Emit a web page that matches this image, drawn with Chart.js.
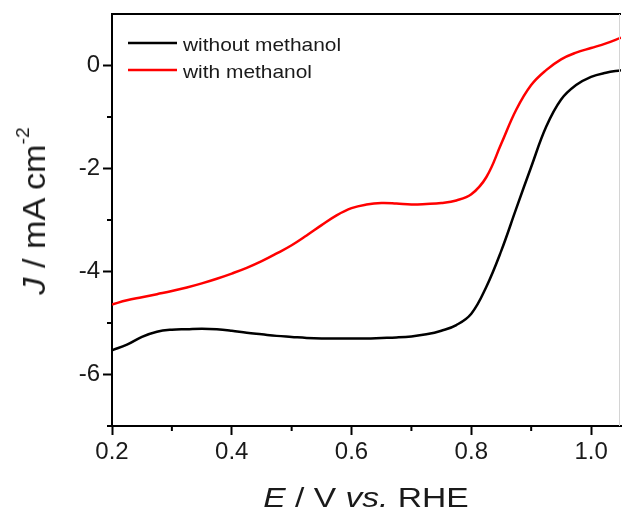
<!DOCTYPE html>
<html>
<head>
<meta charset="utf-8">
<script src="https://cdn.jsdelivr.net/npm/chart.js@4/dist/chart.umd.min.js"></script>
<style>
  body { margin: 0; background: #fff; }
  #wrap { position: relative; width: 622px; height: 515px; font-family: Arial, "Liberation Sans", sans-serif; color: #1a1a1a; }
  #xTitle { position: absolute; left: 166px; top: 484px; width: 400px; text-align: center; font-size: 28px; line-height: 28px; transform: scaleX(1.2); white-space: nowrap; }
  #yTitle { position: absolute; left: -116px; top: 195px; width: 300px; height: 32px; text-align: center; font-size: 32px; line-height: 32px; transform: rotate(-90deg) scaleX(1.07); white-space: nowrap; }
  #yTitle .sup { font-size: 18px; position: relative; top: -16px; }
</style>
</head>
<body>
<div id="wrap">
  <canvas id="lsvChart" width="622" height="515"></canvas>
  <div id="xTitle"><i>E</i> / V <i>vs.</i> RHE</div>
  <div id="yTitle"><i>J</i> / mA cm<span class="sup">-2</span></div>
</div>
<script>
// potential (V vs. RHE)
const potential = [0.2, 0.225, 0.25, 0.275, 0.3, 0.325, 0.35, 0.375, 0.4, 0.425, 0.45, 0.475,
    0.5, 0.525, 0.55, 0.575, 0.6, 0.625, 0.65, 0.675, 0.7, 0.725, 0.75, 0.775,
    0.8, 0.825, 0.85, 0.875, 0.9, 0.925, 0.95, 0.975, 1.0, 1.025, 1.05];

// current density (mA cm-2)
const withoutMethanol = [-5.53, -5.42, -5.27, -5.17, -5.13, -5.12, -5.11, -5.12, -5.15, -5.19, -5.22, -5.25,
    -5.27, -5.29, -5.30, -5.30, -5.30, -5.30, -5.29, -5.28, -5.26, -5.22, -5.15, -5.04,
    -4.82, -4.30, -3.60, -2.78, -1.97, -1.19, -0.66, -0.38, -0.22, -0.14, -0.09];
const withMethanol = [-4.64, -4.56, -4.50, -4.44, -4.38, -4.31, -4.23, -4.14, -4.04, -3.93, -3.80, -3.65,
    -3.49, -3.30, -3.10, -2.91, -2.77, -2.70, -2.67, -2.68, -2.70, -2.69, -2.67, -2.62,
    -2.50, -2.17, -1.52, -0.86, -0.38, -0.09, 0.12, 0.25, 0.34, 0.43, 0.54];

const seriesLabels = ['without methanol', 'with methanol'];
const seriesColors = ['#000000', '#ff0000'];

const xMajor = [0.2, 0.4, 0.6, 0.8, 1.0];
const xMinor = [0.3, 0.5, 0.7, 0.9];
const yMajor = [-6, -4, -2, 0];
const yMinor = [-7, -5, -3, -1];

const isMajor = (list, v) => list.some(m => Math.abs(m - v) < 1e-6);

// top frame, faint right edge, short minor ticks and the legend
const framePlugin = {
    id: 'frame',
    afterDraw(chart) {
        const { ctx, chartArea: a, scales } = chart;
        ctx.save();
        ctx.strokeStyle = '#000';
        ctx.lineWidth = 2;
        ctx.beginPath();
        ctx.moveTo(a.left - 1, a.top);
        ctx.lineTo(a.right, a.top);
        yMinor.forEach(v => {
            const y = scales.y.getPixelForValue(v);
            ctx.moveTo(a.left, y);
            ctx.lineTo(a.left - 5, y);
        });
        xMinor.forEach(v => {
            const x = scales.x.getPixelForValue(v);
            ctx.moveTo(x, a.bottom);
            ctx.lineTo(x, a.bottom + 5);
        });
        ctx.stroke();

        ctx.strokeStyle = '#d4d4d4';
        ctx.lineWidth = 1;
        ctx.beginPath();
        ctx.moveTo(a.right - 1.5, a.top);
        ctx.lineTo(a.right - 1.5, a.bottom);
        ctx.stroke();

        // legend
        chart.data.datasets.forEach((ds, i) => {
            const y = a.top + 29 + i * 27;
            ctx.strokeStyle = ds.borderColor;
            ctx.lineWidth = 2.5;
            ctx.beginPath();
            ctx.moveTo(a.left + 16, y);
            ctx.lineTo(a.left + 65, y);
            ctx.stroke();
            ctx.save();
            ctx.translate(a.left + 71, y + 7.5);
            ctx.scale(1.13, 1);
            ctx.fillStyle = '#1a1a1a';
            ctx.font = '18.5px Arial, "Liberation Sans", sans-serif';
            ctx.textBaseline = 'alphabetic';
            ctx.fillText(ds.label, 0, 0);
            ctx.restore();
        });
        ctx.restore();
    }
};

const tickFont = { family: 'Arial, "Liberation Sans", sans-serif', size: 24 };

new Chart(document.getElementById('lsvChart'), {
    type: 'line',
    data: {
        datasets: [withoutMethanol, withMethanol].map((vals, i) => ({
            label: seriesLabels[i],
            data: vals.map((v, j) => ({ x: potential[j], y: v })),
            borderColor: seriesColors[i],
            borderWidth: 2.5,
            pointRadius: 0,
            tension: 0.4,
            fill: false
        }))
    },
    options: {
        responsive: false,
        animation: false,
        layout: { padding: { top: 14, right: 1, bottom: 0, left: 0 } },
        plugins: { legend: { display: false }, tooltip: { enabled: false } },
        scales: {
            x: {
                type: 'linear',
                min: 0.2,
                max: 1.05,
                afterFit: s => { s.height = 89; s.paddingLeft = 0; s.paddingRight = 0; },
                border: { color: '#000', width: 2 },
                grid: {
                    drawOnChartArea: false,
                    tickLength: 9,
                    tickWidth: 2,
                    tickColor: c => isMajor(xMajor, c.tick.value) ? '#000' : 'rgba(0,0,0,0)'
                },
                ticks: {
                    stepSize: 0.1,
                    includeBounds: false,
                    autoSkip: false,
                    maxRotation: 0,
                    padding: 3,
                    color: '#1a1a1a',
                    font: tickFont,
                    callback: v => isMajor(xMajor, v) ? v.toFixed(1) : ''
                }
            },
            y: {
                min: -7,
                max: 1,
                afterFit: s => { s.width = 112; s.paddingTop = 0; s.paddingBottom = 0; },
                border: { color: '#000', width: 2 },
                grid: {
                    drawOnChartArea: false,
                    tickLength: 9,
                    tickWidth: 2,
                    tickColor: c => isMajor(yMajor, c.tick.value) ? '#000' : 'rgba(0,0,0,0)'
                },
                ticks: {
                    stepSize: 1,
                    autoSkip: false,
                    padding: 3,
                    color: '#1a1a1a',
                    font: tickFont,
                    callback: v => isMajor(yMajor, v) ? String(v) : ''
                }
            }
        }
    },
    plugins: [framePlugin]
});
</script>
</body>
</html>
